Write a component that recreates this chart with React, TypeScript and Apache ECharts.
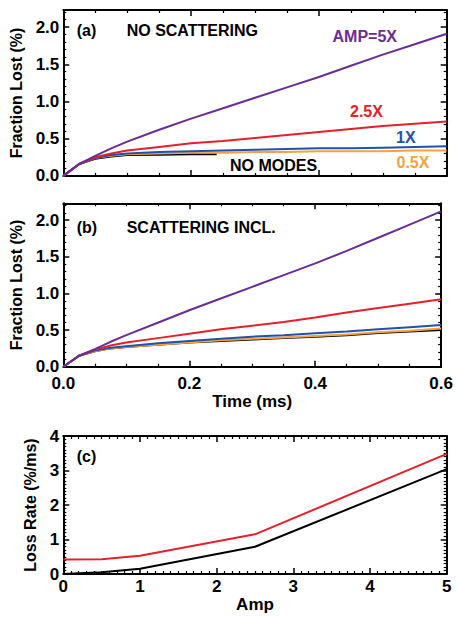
import React, { useEffect, useRef } from "react";
import * as echarts from "echarts";

// ---- data ----
const timeMs = [0, 0.025, 0.05, 0.075, 0.1, 0.15, 0.2, 0.25, 0.3, 0.35, 0.4, 0.45, 0.5, 0.55, 0.6];
const timeNoModes = [0, 0.025, 0.05, 0.075, 0.1, 0.15, 0.2, 0.24];

// (a) no scattering
const aAmp5 = [0, 0.16, 0.27, 0.37, 0.46, 0.62, 0.77, 0.91, 1.05, 1.19, 1.33, 1.48, 1.63, 1.77, 1.91];
const aAmp25 = [0, 0.16, 0.25, 0.3, 0.34, 0.39, 0.44, 0.47, 0.51, 0.55, 0.59, 0.63, 0.67, 0.7, 0.73];
const aAmp1 = [0, 0.16, 0.24, 0.28, 0.3, 0.32, 0.33, 0.34, 0.35, 0.36, 0.37, 0.37, 0.38, 0.39, 0.4];
const aAmp05 = [0, 0.16, 0.24, 0.27, 0.29, 0.3, 0.31, 0.31, 0.32, 0.32, 0.33, 0.33, 0.33, 0.34, 0.34];
const aNoModes = [0, 0.16, 0.23, 0.26, 0.28, 0.285, 0.29, 0.29];

// (b) scattering included
const bAmp5 = [0, 0.15, 0.24, 0.34, 0.43, 0.6, 0.77, 0.93, 1.09, 1.25, 1.41, 1.58, 1.76, 1.94, 2.12];
const bAmp25 = [0, 0.15, 0.23, 0.29, 0.33, 0.39, 0.45, 0.51, 0.56, 0.61, 0.67, 0.74, 0.8, 0.86, 0.92];
const bAmp1 = [0, 0.15, 0.22, 0.26, 0.28, 0.32, 0.35, 0.38, 0.41, 0.43, 0.455, 0.48, 0.51, 0.54, 0.57];
const bAmp05 = [0, 0.15, 0.21, 0.25, 0.27, 0.3, 0.33, 0.36, 0.38, 0.4, 0.42, 0.44, 0.47, 0.49, 0.52];
const bNoModes = [0, 0.15, 0.21, 0.25, 0.27, 0.3, 0.33, 0.35, 0.37, 0.39, 0.41, 0.43, 0.46, 0.48, 0.5];

// (c) loss rate vs amplitude
const amp = [0, 0.5, 1, 2.5, 5];
const rateScattering = [0.42, 0.43, 0.53, 1.15, 3.48];
const rateNoScattering = [0.0, 0.05, 0.15, 0.79, 3.04];

const timeTicks = [0, 0.2, 0.4, 0.6];
const ampTicks = [0, 1, 2, 3, 4, 5];

const PURPLE = "#6A2D96";
const RED = "#E4202A";
const BLUE = "#2052AC";
const ORANGE = "#F5A33C";
const BLACK = "#000000";
const FONT = '"Liberation Sans", Arial, Helvetica, sans-serif';

const pairs = (xs: number[], ys: number[]) => ys.map((y, i) => [xs[i], y]);

export default function App() {
  const ref = useRef<HTMLDivElement>(null);
  useEffect(() => {
    if (!ref.current) return;
    const chart = echarts.init(ref.current, undefined, { renderer: "svg" });

    const gridL = 63.3;
    const gridW = 383.4;
    const grids = [
      { left: gridL, top: 10, width: gridW, height: 165.9 },
      { left: gridL, top: 203.3, width: gridW, height: 163.4 },
      { left: gridL, top: 436, width: gridW, height: 138 },
    ];

    const axisLine = { show: true, onZero: false, lineStyle: { color: BLACK, width: 2 } };
    const tick = { show: true, inside: true, length: 6, lineStyle: { color: BLACK, width: 1.5 } };
    const labelStyle = { color: BLACK, fontFamily: FONT, fontWeight: "bold", fontSize: 17 };
    const nameStyle = { color: BLACK, fontFamily: FONT, fontWeight: "bold", fontSize: 16 };

    const xAxisFor = (
      gridIndex: number,
      min: number,
      max: number,
      interval: number,
      minorSplit: number,
      position: "bottom" | "top",
      showLabels: boolean,
      name?: string,
      margin = 8,
      nameGap = 24
    ) => ({
      type: "value",
      gridIndex,
      position,
      min,
      max,
      interval,
      axisLine,
      axisTick: tick,
      minorTick: { show: true, splitNumber: minorSplit, length: 3, lineStyle: { color: BLACK, width: 1.2 } },
      splitLine: { show: false },
      axisLabel: {
        show: showLabels,
        margin,
        ...labelStyle,
        formatter: (v: number) => (max <= 1 ? v.toFixed(1) : String(v)),
      },
      name: showLabels ? name : undefined,
      nameLocation: "middle",
      nameGap,
      nameTextStyle: { ...nameStyle, fontSize: 17 },
    });

    const yAxisFor = (
      gridIndex: number,
      min: number,
      max: number,
      interval: number,
      minorSplit: number,
      position: "left" | "right",
      showLabels: boolean,
      name?: string,
      nameGap = 36,
      decimals = 1
    ) => ({
      type: "value",
      gridIndex,
      position,
      min,
      max,
      interval,
      axisLine,
      axisTick: tick,
      minorTick: { show: true, splitNumber: minorSplit, length: 3, lineStyle: { color: BLACK, width: 1.2 } },
      splitLine: { show: false },
      axisLabel: {
        show: showLabels,
        margin: 4,
        showMaxLabel: max === 4,
        ...labelStyle,
        formatter: (v: number) => v.toFixed(decimals),
      },
      name: showLabels ? name : undefined,
      nameLocation: "middle",
      nameRotate: 90,
      nameGap,
      nameTextStyle: nameStyle,
    });

    const yMaxFrac = 2.23;

    const line = (name: string, data: number[][], color: string, xi: number, yi: number, z = 2) => ({
      type: "line",
      name,
      data,
      xAxisIndex: xi,
      yAxisIndex: yi,
      showSymbol: false,
      symbol: "none",
      z,
      lineStyle: { color, width: 2 },
      itemStyle: { color },
    });

    const txt = (text: string, x: number, y: number, fill: string, fontSize = 16) => ({
      type: "text",
      x,
      y,
      z: 100,
      style: { text, fill, fontSize, fontWeight: "bold", fontFamily: FONT, verticalAlign: "middle", align: "left" },
    });

    chart.setOption({
      animation: false,
      backgroundColor: "#ffffff",
      grid: grids,
      xAxis: [
        xAxisFor(0, timeTicks[0], timeTicks[3], 0.2, 4, "bottom", false),
        xAxisFor(0, timeTicks[0], timeTicks[3], 0.2, 4, "top", false),
        xAxisFor(1, timeTicks[0], timeTicks[3], 0.2, 4, "bottom", true, "Time (ms)", 8, 23),
        xAxisFor(1, timeTicks[0], timeTicks[3], 0.2, 4, "top", false),
        xAxisFor(2, ampTicks[0], ampTicks[5], 1, 10, "bottom", true, "Amp", 4, 21),
        xAxisFor(2, ampTicks[0], ampTicks[5], 1, 10, "top", false),
      ],
      yAxis: [
        yAxisFor(0, 0, yMaxFrac, 0.5, 5, "left", true, "Fraction Lost (%)", 36, 1),
        yAxisFor(0, 0, yMaxFrac, 0.5, 5, "right", false),
        yAxisFor(1, 0, yMaxFrac, 0.5, 5, "left", true, "Fraction Lost (%)", 36, 1),
        yAxisFor(1, 0, yMaxFrac, 0.5, 5, "right", false),
        yAxisFor(2, 0, 4, 1, 10, "left", true, "Loss Rate (%/ms)", 20, 0),
        yAxisFor(2, 0, 4, 1, 10, "right", false),
      ],
      series: [
        line("No modes (a)", pairs(timeNoModes, aNoModes), BLACK, 0, 0, 2),
        line("0.5X (a)", pairs(timeMs, aAmp05), ORANGE, 0, 0, 3),
        line("1X (a)", pairs(timeMs, aAmp1), BLUE, 0, 0, 4),
        line("2.5X (a)", pairs(timeMs, aAmp25), RED, 0, 0, 5),
        line("AMP=5X (a)", pairs(timeMs, aAmp5), PURPLE, 0, 0, 6),
        line("No modes (b)", pairs(timeMs, bNoModes), BLACK, 2, 2, 2),
        line("0.5X (b)", pairs(timeMs, bAmp05), ORANGE, 2, 2, 3),
        line("1X (b)", pairs(timeMs, bAmp1), BLUE, 2, 2, 4),
        line("2.5X (b)", pairs(timeMs, bAmp25), RED, 2, 2, 5),
        line("AMP=5X (b)", pairs(timeMs, bAmp5), PURPLE, 2, 2, 6),
        line("With scattering", pairs(amp, rateScattering), RED, 4, 4, 3),
        line("No scattering", pairs(amp, rateNoScattering), BLACK, 4, 4, 2),
      ],
      graphic: [
        txt("(a)", 76.7, 30, BLACK),
        txt("NO SCATTERING", 126.7, 30.5, BLACK),
        txt("AMP=5X", 332.5, 36.5, PURPLE),
        txt("2.5X", 350, 111, RED),
        txt("1X", 396, 137.5, BLUE),
        txt("0.5X", 396.5, 162.5, ORANGE),
        txt("NO MODES", 230, 165, BLACK),
        txt("(b)", 76.7, 227.5, BLACK),
        txt("SCATTERING INCL.", 126.7, 227, BLACK),
        txt("(c)", 76.7, 456.7, BLACK),
      ],
    });

    return () => chart.dispose();
  }, []);

  return (
    <div
      ref={ref}
      style={{ position: "fixed", left: 0, top: 0, width: 456, height: 617, background: "#fff" }}
    />
  );
}
